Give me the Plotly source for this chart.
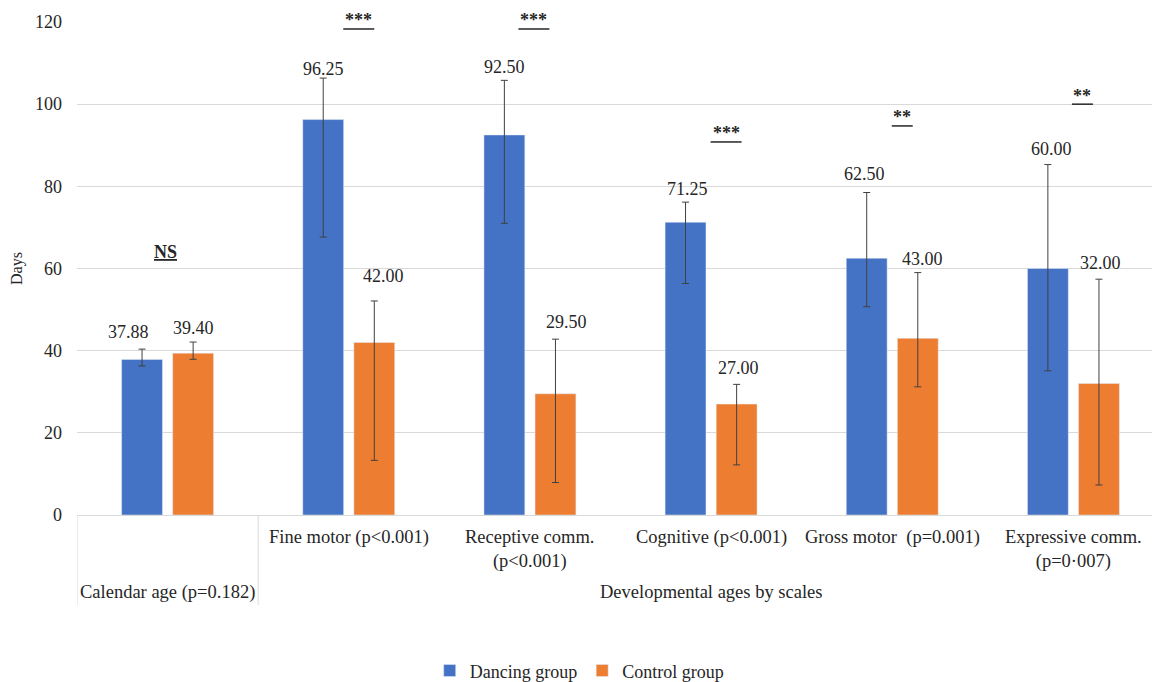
import plotly.graph_objects as go

# ---- data ----
categories = ["Calendar age (p=0.182)", "Fine motor (p<0.001)", "Receptive comm.<br>(p<0.001)",
              "Cognitive (p<0.001)", "Gross motor  (p=0.001)", "Expressive comm.<br>(p=0·007)"]
category_groups = ["", "Developmental ages by scales"]

dancing = [37.88, 96.25, 92.50, 71.25, 62.50, 60.00]
control = [39.40, 42.00, 29.50, 27.00, 43.00, 32.00]

dancing_err_plus = [2.5, 10.1, 13.3, 4.9, 16.0, 25.3]
dancing_err_minus = [1.6, 28.6, 21.5, 14.9, 11.8, 24.9]
control_err_plus = [2.7, 10.1, 13.3, 4.8, 16.0, 25.4]
control_err_minus = [1.5, 28.7, 21.6, 14.8, 11.8, 24.7]

sig_labels = ["NS", "***", "***", "***", "**", "**"]
sig_y = [62.5, 118.3, 118.3, 90.8, 94.7, 100.0]   # level of the significance underline

y_max = 120
y_ticks = [0, 20, 40, 60, 80, 100, 120]

# ---- style ----
FONT = "Liberation Serif"
BLUE = "#4472C4"
ORANGE = "#ED7D31"
TXT = "#262626"
GRID = "#d9d9d9"
PLOT_H = 493  # px height of plot area

label_dx = [(-13.5, 0), (0, 9.5), (0, 11.5), (1.5, 1.5), (-2, 4.5), (4, 2)]
label_dy = [(17, 14), (9, 25), (13, 17), (13, 16), (19, 14), (16, 16)]
sig_dx = [-2, 10, 4, 15, 10, 9]
sig_w = {"***": 31, "**": 21}

fig = go.Figure()
fig.add_trace(go.Bar(
    name="Dancing group", x=categories, y=dancing, marker_color=BLUE,
    error_y=dict(type="data", symmetric=False, array=dancing_err_plus,
                 arrayminus=dancing_err_minus, color="#404040", thickness=1, width=3.5),
))
fig.add_trace(go.Bar(
    name="Control group", x=categories, y=control, marker_color=ORANGE,
    error_y=dict(type="data", symmetric=False, array=control_err_plus,
                 arrayminus=control_err_minus, color="#404040", thickness=1, width=3.5),
))

annotations = []
shapes = []

# value labels
for i in range(len(categories)):
    for j, (vals, ep) in enumerate([(dancing, dancing_err_plus), (control, control_err_plus)]):
        annotations.append(dict(
            x=i, y=vals[i] + ep[i], xref="x", yref="y",
            text=f"{vals[i]:.2f}", showarrow=False,
            xshift=(-25.5 if j == 0 else 25.5) + label_dx[i][j], yshift=label_dy[i][j],
            font=dict(family=FONT, size=18, color=TXT),
        ))

# significance markers
for i, (lab, yy) in enumerate(zip(sig_labels, sig_y)):
    if lab == "NS":
        annotations.append(dict(
            x=i, y=yy / y_max, xref="x", yref="y domain", text=f"<b><u>{lab}</u></b>",
            showarrow=False, xshift=sig_dx[i], yanchor="middle", yshift=6,
            font=dict(family=FONT, size=18, color=TXT),
        ))
    else:
        annotations.append(dict(
            x=i, y=yy / y_max, xref="x", yref="y domain", text=f"<b>{lab}</b>",
            showarrow=False, xshift=sig_dx[i], yanchor="middle", yshift=8.5,
            font=dict(family=FONT, size=18, color=TXT),
        ))
        w = sig_w[lab]
        shapes.append(dict(
            type="line", xref="x", yref="y domain", xsizemode="pixel", xanchor=i,
            x0=sig_dx[i] - w / 2, x1=sig_dx[i] + w / 2, y0=yy / y_max, y1=yy / y_max,
            line=dict(color=TXT, width=1.5),
        ))

# category labels (first level)
for i, cat in enumerate(categories[1:], start=1):
    annotations.append(dict(
        x=i, y=-10 / PLOT_H, xref="x", yref="paper", text=cat, showarrow=False,
        yanchor="top", font=dict(family=FONT, size=18.5, color=TXT),
    ))
# group labels (second level)
annotations.append(dict(
    x=0, y=-77 / PLOT_H, xref="x", yref="paper", text=categories[0], showarrow=False,
    yanchor="middle", font=dict(family=FONT, size=18.5, color=TXT),
))
annotations.append(dict(
    x=(1 + len(categories) - 1) / 2, y=-77 / PLOT_H, xref="x", yref="paper",
    text=category_groups[1], showarrow=False,
    yanchor="middle", font=dict(family=FONT, size=18.5, color=TXT),
))
# dividers
for xv in [-0.5, 0.5, len(categories) - 0.5]:
    shapes.append(dict(type="line", xref="x", yref="paper", x0=xv, x1=xv,
                       y0=0, y1=-90 / PLOT_H, line=dict(color=GRID, width=1)))

# the page body has an 8px margin, so the figure is offset by 8px
fig.update_layout(
    annotations=annotations, shapes=shapes,
    barmode="group", bargap=0.436, bargroupgap=0.2,
    width=1160, height=682,
    margin=dict(l=69, r=4, t=14, b=175, autoexpand=False),
    paper_bgcolor="white", plot_bgcolor="white",
    font=dict(family=FONT, size=17, color=TXT),
    legend=dict(orientation="h", xref="paper", yref="paper",
                x=0.462, y=-0.316, xanchor="center", yanchor="middle",
                font=dict(family=FONT, size=18, color=TXT), traceorder="normal"),
    xaxis=dict(type="category", showgrid=False, ticks="", showline=False, automargin=False,
               showticklabels=False, range=[-0.5, len(categories) - 0.5]),
    yaxis=dict(range=[0, y_max], tickvals=y_ticks, showgrid=True, gridcolor=GRID,
               gridwidth=1, zeroline=True, zerolinecolor=GRID, zerolinewidth=1,
               showline=False, ticks="", ticklabelstandoff=14, automargin=False,
               tickfont=dict(family=FONT, size=18, color=TXT),
               title=dict(text="Days", standoff=14, font=dict(family=FONT, size=16, color=TXT))),
)

fig.write_html("out.html")
